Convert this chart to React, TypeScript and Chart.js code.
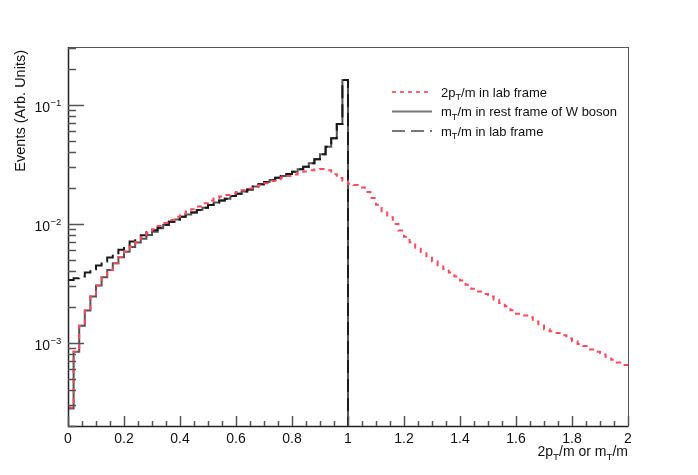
import { useEffect, useRef } from 'react';
import { Chart, registerables } from 'chart.js';

Chart.register(...registerables);

// ---- data (bin width 0.02, bins start at 0) ----
const BIN_WIDTH = 0.02;

// 2pT/m in lab frame (0 .. 2)
const LAB_2PT: number[] = [
  2.86e-4, 8.4e-4, 1.39e-3, 1.87e-3, 2.45e-3, 3.03e-3, 3.56e-3, 4.10e-3, 4.67e-3, 5.25e-3,
  5.85e-3, 6.45e-3, 7.05e-3, 7.75e-3, 8.4e-3, 9.0e-3, 9.6e-3, 1.02e-2, 1.08e-2, 1.15e-2,
  1.21e-2, 1.27e-2, 1.33e-2, 1.40e-2, 1.49e-2, 1.57e-2, 1.64e-2, 1.70e-2, 1.75e-2, 1.80e-2,
  1.85e-2, 1.92e-2, 1.98e-2, 2.04e-2, 2.11e-2, 2.20e-2, 2.29e-2, 2.37e-2, 2.45e-2, 2.53e-2,
  2.60e-2, 2.68e-2, 2.76e-2, 2.83e-2, 2.88e-2, 2.89e-2, 2.82e-2, 2.62e-2, 2.43e-2, 2.30e-2,
  2.18e-2, 2.12e-2, 2.02e-2, 1.85e-2, 1.65e-2, 1.45e-2, 1.28e-2, 1.14e-2, 1.00e-2, 8.8e-3,
  7.8e-3, 7.0e-3, 6.3e-3, 5.8e-3, 5.35e-3, 4.85e-3, 4.50e-3, 4.17e-3, 3.90e-3, 3.62e-3,
  3.35e-3, 3.08e-3, 2.85e-3, 2.70e-3, 2.58e-3, 2.45e-3, 2.30e-3, 2.16e-3, 2.03e-3, 1.88e-3,
  1.76e-3, 1.70e-3, 1.64e-3, 1.51e-3, 1.40e-3, 1.30e-3, 1.25e-3, 1.21e-3, 1.16e-3, 1.09e-3,
  1.03e-3, 9.8e-4, 9.4e-4, 8.8e-4, 8.4e-4, 8.0e-4, 7.6e-4, 7.2e-4, 6.85e-4, 6.5e-4,
];

// mT/m in rest frame of W boson (0 .. 1)
const REST_MT: number[] = [
  2.8e-4, 8.4e-4, 1.39e-3, 1.87e-3, 2.45e-3, 3.03e-3, 3.56e-3, 4.10e-3, 4.67e-3, 5.25e-3,
  5.82e-3, 6.41e-3, 6.97e-3, 7.50e-3, 8.05e-3, 8.6e-3, 9.2e-3, 9.8e-3, 1.04e-2, 1.09e-2,
  1.15e-2, 1.20e-2, 1.245e-2, 1.31e-2, 1.37e-2, 1.44e-2, 1.51e-2, 1.57e-2, 1.63e-2, 1.72e-2,
  1.79e-2, 1.87e-2, 1.95e-2, 2.06e-2, 2.15e-2, 2.25e-2, 2.34e-2, 2.44e-2, 2.53e-2, 2.63e-2,
  2.75e-2, 2.88e-2, 3.03e-2, 3.24e-2, 3.49e-2, 3.85e-2, 4.46e-2, 5.25e-2, 6.92e-2, 0.162,
];

// mT/m in lab frame (0 .. 1)
const LAB_MT: number[] = [
  3.38e-3, 3.49e-3, 3.61e-3, 3.90e-3, 4.16e-3, 4.47e-3, 4.83e-3, 5.21e-3, 5.67e-3, 6.05e-3,
  6.45e-3, 7.11e-3, 7.58e-3, 8.04e-3, 8.51e-3, 8.85e-3, 9.3e-3, 9.85e-3, 1.04e-2, 1.09e-2,
  1.15e-2, 1.20e-2, 1.245e-2, 1.31e-2, 1.37e-2, 1.44e-2, 1.51e-2, 1.57e-2, 1.63e-2, 1.72e-2,
  1.79e-2, 1.87e-2, 1.95e-2, 2.06e-2, 2.15e-2, 2.25e-2, 2.34e-2, 2.44e-2, 2.53e-2, 2.63e-2,
  2.75e-2, 2.88e-2, 3.03e-2, 3.24e-2, 3.49e-2, 3.85e-2, 4.46e-2, 5.25e-2, 6.92e-2, 0.162,
];

const X_MIN = 0;
const X_MAX = 2;
const Y_MIN = 2.0e-4;
const Y_MAX = 0.307;

const X_MAJOR_TICKS = [0, 0.2, 0.4, 0.6, 0.8, 1, 1.2, 1.4, 1.6, 1.8, 2];
const X_TICK_LABELS = ['0', '0.2', '0.4', '0.6', '0.8', '1', '1.2', '1.4', '1.6', '1.8', '2'];
const X_MINOR_STEP = 0.05;
const Y_DECADES = [1e-4, 1e-3, 1e-2, 1e-1, 1];
const Y_DECADE_EXPONENTS = ['-4', '-3', '-2', '-1', '0'];

type Part = { t: string; sub?: boolean; sup?: boolean };
const LEGEND_ITEMS: { parts: Part[]; color: string; dash: number[] }[] = [
  { parts: [{ t: '2p' }, { t: 'T', sub: true }, { t: '/m in lab frame' }], color: '#ff6676', dash: [4, 4] },
  { parts: [{ t: 'm' }, { t: 'T', sub: true }, { t: '/m in rest frame of W boson' }], color: '#777777', dash: [] },
  { parts: [{ t: 'm' }, { t: 'T', sub: true }, { t: '/m in lab frame' }], color: '#777777', dash: [13, 6] },
];
const X_TITLE: Part[] = [{ t: '2p' }, { t: 'T', sub: true }, { t: '/m or m' }, { t: 'T', sub: true }, { t: '/m' }];
const Y_TITLE = 'Events (Arb. Units)';

const FONT_FAMILY = '"Liberation Sans", Arial, Helvetica, sans-serif';

function toSteps(values: number[], dropTo?: number) {
  const pts = values.map((v, i) => ({ x: i * BIN_WIDTH, y: v }));
  const end = values.length * BIN_WIDTH;
  pts.push({ x: end, y: dropTo !== undefined ? dropTo : values[values.length - 1] });
  return pts;
}

function partsWidth(ctx: CanvasRenderingContext2D, parts: Part[], size: number) {
  let w = 0;
  for (const p of parts) {
    ctx.font = `${p.sub || p.sup ? size * 0.7 : size}px ${FONT_FAMILY}`;
    w += ctx.measureText(p.t).width;
  }
  return w;
}

function drawParts(ctx: CanvasRenderingContext2D, parts: Part[], x: number, y: number, size: number) {
  let cx = x;
  ctx.textAlign = 'left';
  ctx.textBaseline = 'alphabetic';
  for (const p of parts) {
    const s = p.sub || p.sup ? size * 0.7 : size;
    ctx.font = `${s}px ${FONT_FAMILY}`;
    const dy = p.sub ? size * 0.3 : p.sup ? -size * 0.45 : 0;
    ctx.fillText(p.t, cx, y + dy);
    cx += ctx.measureText(p.t).width;
  }
}

const rootPlugin = {
  id: 'rootStyle',
  afterDraw(chart: any) {
    const ctx: CanvasRenderingContext2D = chart.ctx;
    const xs = chart.scales.x;
    const ys = chart.scales.y;
    const { left, right, top, bottom } = chart.chartArea;
    ctx.save();

    // frame
    ctx.strokeStyle = '#555';
    ctx.lineWidth = 1;
    ctx.setLineDash([]);
    ctx.strokeRect(left + 0.5, top + 0.5, right - left, bottom - top);
    ctx.strokeStyle = '#222';
    ctx.lineWidth = 1.5;
    ctx.beginPath();
    ctx.moveTo(left + 0.5, top);
    ctx.lineTo(left + 0.5, bottom + 0.5);
    ctx.lineTo(right, bottom + 0.5);
    ctx.stroke();

    // x ticks
    ctx.strokeStyle = '#555';
    ctx.lineWidth = 1.5;
    ctx.beginPath();
    const nMinor = Math.round((X_MAX - X_MIN) / X_MINOR_STEP);
    for (let i = 0; i <= nMinor; i++) {
      const v = X_MIN + i * X_MINOR_STEP;
      const px = Math.round(xs.getPixelForValue(v)) + 0.5;
      ctx.moveTo(px, bottom);
      ctx.lineTo(px, bottom - 5);
    }
    for (const v of X_MAJOR_TICKS) {
      const px = Math.round(xs.getPixelForValue(v)) + 0.5;
      ctx.moveTo(px, bottom);
      ctx.lineTo(px, bottom - 10);
    }
    ctx.stroke();

    // y ticks
    ctx.beginPath();
    for (const d of Y_DECADES) {
      for (let m = 1; m <= 9; m++) {
        const v = d * m;
        if (v < Y_MIN || v > Y_MAX) continue;
        const py = Math.round(ys.getPixelForValue(v)) + 0.5;
        ctx.moveTo(left, py);
        ctx.lineTo(left + (m === 1 ? 16 : 8), py);
      }
    }
    ctx.stroke();

    // x tick labels
    ctx.fillStyle = '#111';
    ctx.font = `14px ${FONT_FAMILY}`;
    ctx.textAlign = 'center';
    ctx.textBaseline = 'alphabetic';
    X_MAJOR_TICKS.forEach((v, i) => {
      ctx.fillText(X_TICK_LABELS[i], xs.getPixelForValue(v), 443);
    });

    // y tick labels: 10^k
    Y_DECADES.forEach((d, i) => {
      if (d < Y_MIN || d > Y_MAX) return;
      const py = ys.getPixelForValue(d);
      ctx.font = `14px ${FONT_FAMILY}`;
      ctx.textAlign = 'right';
      ctx.textBaseline = 'alphabetic';
      ctx.fillText('10', 50, py + 7);
      ctx.font = `9.5px ${FONT_FAMILY}`;
      ctx.textAlign = 'left';
      ctx.fillText(Y_DECADE_EXPONENTS[i].replace('-', '\u2212'), 50.5, py + 1);
    });

    // x title (right aligned at frame end)
    const tw = partsWidth(ctx, X_TITLE, 14);
    drawParts(ctx, X_TITLE, right - tw, 456, 14);

    // y title (rotated, right aligned at top)
    ctx.save();
    ctx.translate(25, top + 3);
    ctx.rotate(-Math.PI / 2);
    ctx.font = `14.5px ${FONT_FAMILY}`;
    ctx.textAlign = 'right';
    ctx.textBaseline = 'alphabetic';
    ctx.fillText(Y_TITLE, 0, 0);
    ctx.restore();

    // legend
    const legX1 = 392;
    const legX2 = 432;
    const textX = 441;
    const rowY = [92, 111.5, 131];
    LEGEND_ITEMS.forEach((item, i) => {
      ctx.strokeStyle = item.color;
      ctx.lineWidth = 2;
      ctx.setLineDash(item.dash);
      ctx.beginPath();
      ctx.moveTo(legX1, rowY[i]);
      ctx.lineTo(legX2, rowY[i]);
      ctx.stroke();
      ctx.setLineDash([]);
      ctx.fillStyle = '#111';
      drawParts(ctx, item.parts, textX, rowY[i] + 4.5, 13);
    });

    ctx.restore();
  },
};

export default function App() {
  const canvasRef = useRef<HTMLCanvasElement | null>(null);

  useEffect(() => {
    const canvas = canvasRef.current;
    if (!canvas) return;
    const chart = new Chart(canvas, {
      type: 'line',
      data: {
        datasets: [
          {
            label: '2pT/m in lab frame',
            data: toSteps(LAB_2PT),
            borderColor: '#ff4a5c',
            borderWidth: 2,
            borderDash: [5, 5],
            stepped: true,
            pointRadius: 0,
            fill: false,
          },
          {
            label: 'mT/m in lab frame',
            data: toSteps(LAB_MT, 1e-7),
            borderColor: '#1a1a1a',
            borderWidth: 2,
            borderDash: [13, 6],
            stepped: true,
            pointRadius: 0,
            fill: false,
          },
          {
            label: 'mT/m in rest frame of W boson',
            data: toSteps(REST_MT, 1e-7),
            borderColor: '#555555',
            borderWidth: 2,
            stepped: true,
            pointRadius: 0,
            fill: false,
          },
        ],
      },
      options: {
        animation: false,
        responsive: true,
        maintainAspectRatio: false,
        parsing: false as any,
        layout: { padding: { left: 68, right: 70, top: 47, bottom: 49 } },
        plugins: { legend: { display: false }, tooltip: { enabled: false } },
        scales: {
          x: { type: 'linear', min: X_MIN, max: X_MAX, display: false },
          y: { type: 'logarithmic', min: Y_MIN, max: Y_MAX, display: false },
        },
      },
      plugins: [rootPlugin],
    });
    return () => chart.destroy();
  }, []);

  return (
    <div style={{ position: 'fixed', left: 0, top: 0, width: 698, height: 475, background: '#fff' }}>
      <canvas ref={canvasRef} />
    </div>
  );
}
